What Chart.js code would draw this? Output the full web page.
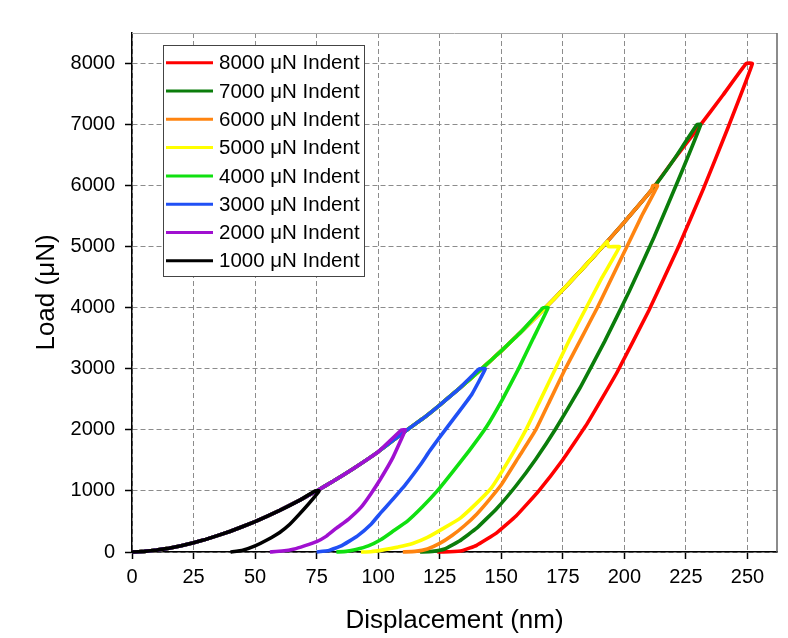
<!DOCTYPE html>
<html>
<head>
<meta charset="utf-8">
<title>Load-displacement curves</title>
<script src="https://cdn.jsdelivr.net/npm/chart.js@4.4.1/dist/chart.umd.min.js"></script>
<style>
  body { margin: 0; background: #fff; }
  #chart { display: block; }
</style>
</head>
<body>
<canvas id="chart" width="788" height="638"></canvas>
<script>
// Shared loading branch (nm, uN) followed by all indents up to their peak load
const loadingDisp = [0, 5, 10, 15, 20, 25, 30, 40, 50, 60, 68, 75, 82, 90, 100, 110, 118, 125, 133, 143, 150, 158, 168, 175, 183, 193, 200, 211, 220, 230, 240, 250];
const loadingForce = [0, 10, 31, 63, 103, 151, 207, 339, 498, 681, 845, 1000, 1166, 1368, 1640, 1950, 2181, 2407, 2679, 3035, 3294, 3602, 4003, 4295, 4638, 5083, 5403, 5925, 6420, 6946, 7480, 8030];

const indentLabels = ["8000 \u03bcN Indent", "7000 \u03bcN Indent", "6000 \u03bcN Indent", "5000 \u03bcN Indent",
                      "4000 \u03bcN Indent", "3000 \u03bcN Indent", "2000 \u03bcN Indent", "1000 \u03bcN Indent"];
const indentColors = ["#ff0000", "#0b7d0b", "#ff8410", "#ffff00", "#10e010", "#2050f5", "#a010d0", "#000000"];
const peakLoad = [8000, 7000, 6000, 5000, 4000, 3000, 2000, 1000];
const holdStart = [249.5, 229.5, 211.5, 193.5, 167, 141, 109.5, 74.5];
const holdEnd = [252, 231, 213.5, 198, 169, 143.5, 111, 76];

// Unloading branches, from just below the peak down to zero load
const unloadDisp8000 = [242, 232, 222, 210, 197, 185, 175, 165, 156, 148, 140, 134, 129, 124];
const unloadLoad8000 = [6940, 5940, 5000, 3960, 2940, 2110, 1510, 990, 590, 310, 110, 20, 5, 0];
const unloadDisp7000 = [222, 212, 202, 192, 182, 172, 164, 156, 148, 140, 133, 127, 122, 117];
const unloadLoad7000 = [6100, 5150, 4270, 3450, 2690, 2010, 1520, 1085, 705, 390, 180, 50, 10, 0];
const unloadDisp6000 = [207, 201, 195, 189, 182.5, 176, 170, 164, 157, 150, 145, 140, 135, 130, 125, 120, 115, 110];
const unloadLoad6000 = [5500, 5000, 4500, 4000, 3500, 3000, 2500, 2000, 1550, 1100, 850, 620, 430, 270, 140, 50, 10, 0];
const unloadDisp5000 = [191, 184.5, 178, 172, 166, 160, 153, 146, 140, 133.5, 127, 120, 114, 108, 102, 97, 93];
const unloadLoad5000 = [4500, 4000, 3500, 3000, 2500, 2000, 1500, 1050, 800, 560, 400, 240, 140, 80, 35, 5, 0];
const unloadDisp4000 = [163, 157, 150.5, 144, 137, 130, 124, 118, 112, 106, 101, 96, 91, 87, 83];
const unloadLoad4000 = [3500, 3000, 2500, 2050, 1660, 1300, 1000, 740, 510, 340, 200, 100, 40, 10, 0];
const unloadDisp3000 = [138, 131, 125, 121, 117, 111, 105, 101, 97, 91.5, 85, 80, 75];
const unloadLoad3000 = [2580, 2200, 1880, 1660, 1420, 1100, 820, 640, 450, 260, 100, 25, 0];
const unloadDisp2000 = [106, 101, 97, 93, 88, 83, 79, 75, 70, 66, 61, 56];
const unloadLoad2000 = [1550, 1200, 950, 730, 540, 390, 260, 170, 100, 50, 15, 0];
const unloadDisp1000 = [72, 68, 64, 60, 55, 50, 45, 40];
const unloadLoad1000 = [800, 620, 450, 320, 200, 100, 30, 0];

const unloadDisp = [unloadDisp8000, unloadDisp7000, unloadDisp6000, unloadDisp5000,
                    unloadDisp4000, unloadDisp3000, unloadDisp2000, unloadDisp1000];
const unloadLoad = [unloadLoad8000, unloadLoad7000, unloadLoad6000, unloadLoad5000,
                    unloadLoad4000, unloadLoad3000, unloadLoad2000, unloadLoad1000];

const xTicks = [0, 25, 50, 75, 100, 125, 150, 175, 200, 225, 250];
const yTicks = [0, 1000, 2000, 3000, 4000, 5000, 6000, 7000, 8000];

const FONT = "'Liberation Sans', Arial, Helvetica, sans-serif";

function buildCurve(i) {
  const pts = [];
  loadingDisp.forEach((h, k) => {
    if (h < holdStart[i]) pts.push({ x: h, y: loadingForce[k] });
  });
  pts.push({ x: holdStart[i], y: peakLoad[i] });
  pts.push({ x: holdEnd[i], y: peakLoad[i] });
  unloadDisp[i].forEach((h, k) => pts.push({ x: h, y: unloadLoad[i][k] }));
  return pts;
}

// smallest load drawn last, so the 1000 uN curve sits on top
const datasets = indentLabels.map((label, i) => ({
  label,
  data: buildCurve(i),
  borderColor: indentColors[i],
  backgroundColor: indentColors[i],
  borderWidth: 3.6,
  pointRadius: 0,
  tension: 0.1,
  borderJoinStyle: "miter",
  clip: 4,
})).reverse();

const frame = {
  id: "frame",
  beforeDatasetsDraw(chart) {
    const { ctx, chartArea: a } = chart;
    ctx.save();
    ctx.lineWidth = 1;
    ctx.strokeStyle = "#a8a8a8";
    ctx.beginPath();
    ctx.moveTo(a.left, a.top + 0.5);
    ctx.lineTo(a.right, a.top + 0.5);
    ctx.stroke();
    ctx.strokeStyle = "#666";
    ctx.lineWidth = 1.5;
    ctx.beginPath();
    ctx.moveTo(a.right, a.top);
    ctx.lineTo(a.right, a.bottom);
    ctx.stroke();
    ctx.restore();
  },
};

const boxLegend = {
  id: "boxLegend",
  afterDatasetsDraw(chart) {
    const ctx = chart.ctx;
    const x0 = 163, y0 = 45, w = 201, h = 231;
    ctx.save();
    ctx.fillStyle = "#fff";
    ctx.fillRect(x0, y0, w, h);
    ctx.strokeStyle = "#444";
    ctx.lineWidth = 1;
    ctx.strokeRect(x0 + 0.5, y0 + 0.5, w, h);
    ctx.font = "20.5px " + FONT;
    ctx.textBaseline = "middle";
    ctx.textAlign = "left";
    indentLabels.forEach((label, i) => {
      const y = 62.7 + i * 28.3;
      ctx.strokeStyle = indentColors[i];
      ctx.lineWidth = 3;
      ctx.beginPath();
      ctx.moveTo(166, y);
      ctx.lineTo(213, y);
      ctx.stroke();
      ctx.fillStyle = "#000";
      ctx.fillText(label, 219, y + 1);
    });
    ctx.restore();
  },
};

const gridStyle = {
  color: "#8c8c8c",
  lineWidth: 1,
  tickColor: "#000",
  tickLength: 7,
  tickWidth: 1.5,
  tickBorderDash: [],
};

const plainNumber = (v) => String(v);

new Chart(document.getElementById("chart"), {
  type: "scatter",
  data: { datasets },
  options: {
    responsive: false,
    animation: false,
    showLine: true,
    layout: { padding: { left: 0, right: 11, top: 33, bottom: 0 } },
    plugins: {
      legend: { display: false },
      tooltip: { enabled: false },
    },
    scales: {
      x: {
        type: "linear",
        min: 0,
        max: 262,
        afterFit: (scale) => { scale.height = 86; },
        afterBuildTicks: (scale) => { scale.ticks = xTicks.map((v) => ({ value: v })); },
        ticks: {
          includeBounds: false,
          padding: 6,
          color: "#000",
          font: { family: FONT, size: 20 },
          maxRotation: 0,
          callback: plainNumber,
        },
        grid: gridStyle,
        border: { display: true, color: "#000", width: 1.5, dash: [5, 3] },
        title: {
          display: true,
          text: "Displacement (nm)",
          color: "#000",
          font: { family: FONT, size: 26 },
          padding: { top: 0, bottom: 2 },
        },
      },
      y: {
        type: "linear",
        min: 0,
        max: 8500,
        afterFit: (scale) => { scale.width = 132; },
        afterBuildTicks: (scale) => { scale.ticks = yTicks.map((v) => ({ value: v })); },
        ticks: {
          includeBounds: false,
          padding: 10,
          color: "#000",
          font: { family: FONT, size: 20 },
          callback: plainNumber,
        },
        grid: gridStyle,
        border: { display: true, color: "#000", width: 1.5, dash: [5, 3] },
        title: {
          display: true,
          text: "Load (\u03bcN)",
          color: "#000",
          font: { family: FONT, size: 26 },
          padding: { top: 31, bottom: 0 },
        },
      },
    },
  },
  plugins: [frame, boxLegend],
});
</script>
</body>
</html>
